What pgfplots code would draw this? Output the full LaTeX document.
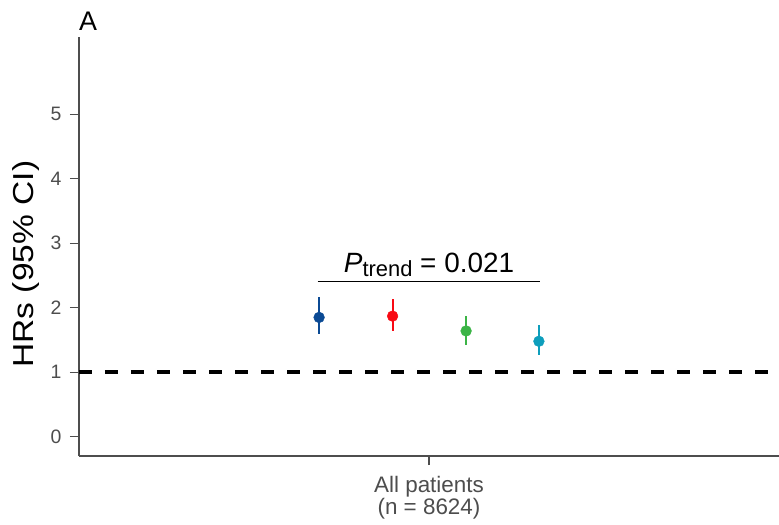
\documentclass[border=0pt]{standalone}
\usepackage{pgfplots}
\pgfplotsset{compat=1.18}
\usepackage{pgfplotstable}
\usepackage{fontspec}
\setmainfont{Liberation Sans}
\usepackage{graphicx}

\definecolor{axisgray}{HTML}{4D4D4D}
\definecolor{cblue}{HTML}{0B4A94}
\definecolor{cred}{HTML}{F80A14}
\definecolor{cgreen}{HTML}{3BB446}
\definecolor{cteal}{HTML}{0E9EBC}

\pgfplotstableread{
x y ep em
0.343 1.85 0.32 0.26
}\tblue
\pgfplotstableread{
x y ep em
0.448 1.87 0.26 0.23
}\tred
\pgfplotstableread{
x y ep em
0.553 1.64 0.23 0.22
}\tgreen
\pgfplotstableread{
x y ep em
0.657 1.48 0.25 0.22
}\tteal

\pgfplotsset{
  hrpt/.style={only marks, mark=*, mark size=5.4bp, color=#1,
    mark options={draw=#1, fill=#1},
    error bars/.cd, y dir=both, y explicit, error mark=none,
    error bar style={line width=2bp, draw=#1}},
}

\begin{document}
\begin{tikzpicture}
\begin{axis}[
  at={(0,0)}, anchor=south west,
  scale only axis, width=700bp, height=419bp,
  xmin=0, xmax=1, ymin=-0.3, ymax=6.2,
  axis x line=bottom, axis y line=left,
  axis line style={-, draw=axisgray, line width=1.3bp},
  xtick={0.5}, xticklabels={All patients\\(n = 8624)},
  ytick={0,1,2,3,4,5},
  tick align=outside, major tick length=9bp,
  tick style={draw=axisgray, line width=1.1bp},
  /pgf/number format/assume math mode=true,
  yticklabel style={font=\fontsize{19.5}{19.5}\selectfont, text=axisgray, xshift=-5bp},
  xticklabel style={font=\fontsize{22.5}{22}\selectfont, text=axisgray, align=center, yshift=-8bp},
  clip=false,
]
\addplot[black, line width=3.5bp, dash pattern=on 13bp off 13bp, forget plot] coordinates {(0,1) (1,1)};
\addplot[black, line width=1bp, forget plot] coordinates {(0.341,2.41) (0.659,2.41)};
\addplot[hrpt=cblue] table[x=x, y=y, y error plus=ep, y error minus=em] {\tblue};
\addplot[hrpt=cred] table[x=x, y=y, y error plus=ep, y error minus=em] {\tred};
\addplot[hrpt=cgreen] table[x=x, y=y, y error plus=ep, y error minus=em] {\tgreen};
\addplot[hrpt=cteal] table[x=x, y=y, y error plus=ep, y error minus=em] {\tteal};
\node[anchor=base, inner sep=0] at (axis cs:0.5,2.41) [yshift=8.5bp]
  {{\fontsize{28}{28}\selectfont\itshape P}\raisebox{-4bp}{\fontsize{22}{22}\selectfont trend}{\fontsize{28}{28}\selectfont{} = 0.021}};
\node[anchor=base west, inner sep=0, font=\fontsize{27}{27}\selectfont] at (rel axis cs:0,1) [yshift=7bp] {A};
\node[rotate=90, anchor=base, inner sep=0, font=\fontsize{29}{29}\selectfont] at (rel axis cs:-0.0657,0.458) {\scalebox{1.16}[1]{HRs (95\% CI)}};
\end{axis}
\pgfresetboundingbox
\path[use as bounding box] (-79bp,-69bp) rectangle (700bp,456bp);
\end{tikzpicture}
\end{document}
